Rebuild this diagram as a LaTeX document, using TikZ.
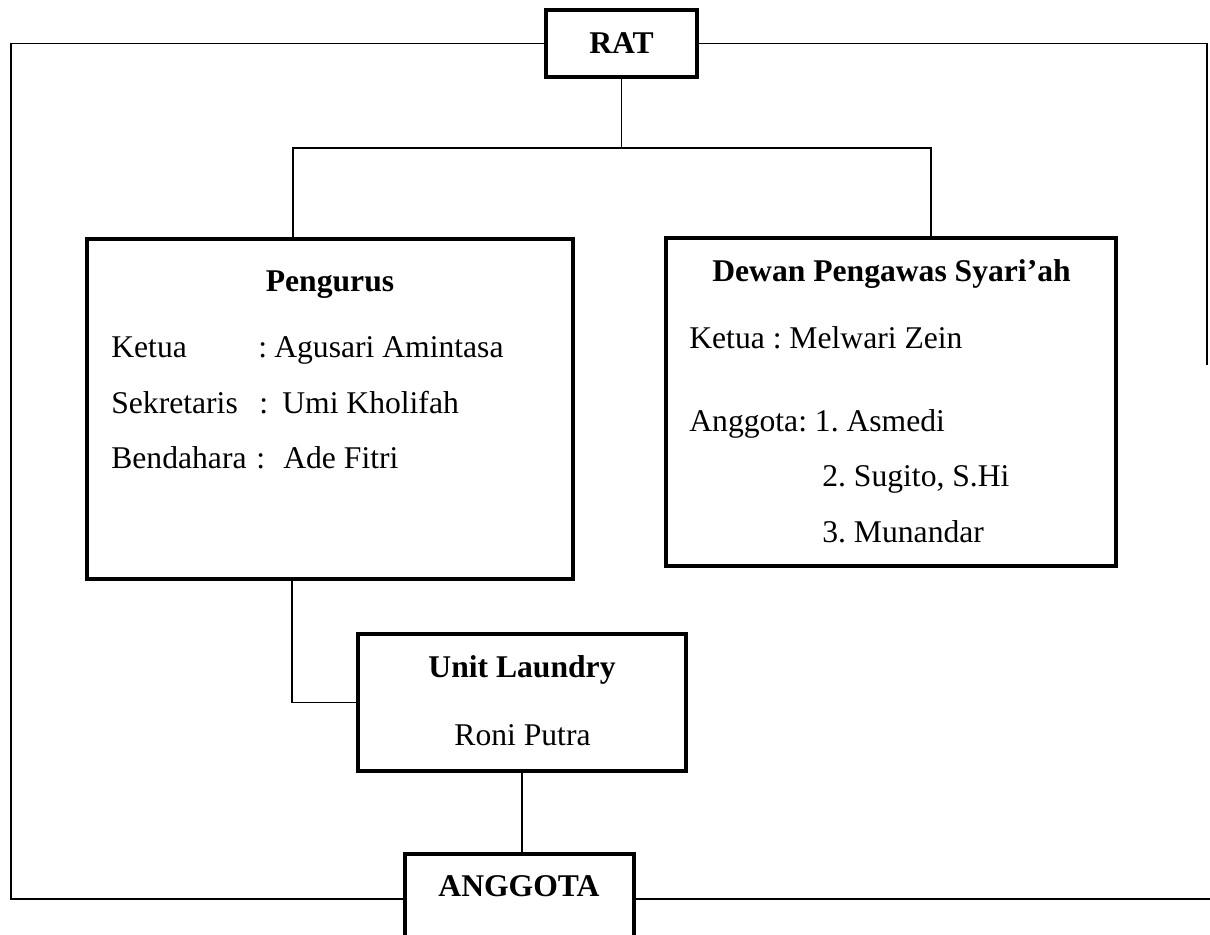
\documentclass[tikz,border=0pt]{standalone}
\usepackage{fontspec}
\setmainfont{Liberation Serif}
\usetikzlibrary{positioning}
\frenchspacing

\newcommand{\orgrow}[4]{\makebox[#1][l]{#2}\makebox[#3][l]{:}#4}

\begin{document}
\begin{tikzpicture}[
    x=0.02cm, y=-0.02cm,
    every node/.style={font=\fontsize{18}{22}\selectfont, inner sep=0pt},
    orgbox/.style={draw, line width=2.3pt, fill=white},
    title/.style={anchor=base, font=\fontsize{18}{22}\selectfont\bfseries},
    entry/.style={anchor=base west},
    link/.style={line width=0.85pt},
    frame/.style={line width=1.1pt}
]
    \useasboundingbox (0,0) rectangle (1210,935);

    % Boxes
    \node[orgbox, minimum width=3.02cm, minimum height=1.34cm, font=\fontsize{18}{22}\selectfont\bfseries] (rat) at (621.5,43.5) {RAT};
    \node[orgbox, minimum width=9.72cm, minimum height=6.8cm] (pengurus) at (330,409) {};
    \node[orgbox, minimum width=9cm, minimum height=6.56cm] (dps) at (891,402) {};
    \node[orgbox, minimum width=6.56cm, minimum height=2.74cm] (unit) at (522,702.5) {};
    \node[orgbox, minimum width=4.58cm, minimum height=4cm, anchor=north] (anggota) at (519.5,852) {};

    % Texts of Pengurus
    \node[title] (pengurustitle) at (330,292) {Pengurus};
    \node[entry] (ketua) at (111,358) {\orgrow{2.94cm}{Ketua}{0.32cm}{Agusari Amintasa}};
    \node[entry] (sekretaris) at (111,414) {\orgrow{2.96cm}{Sekretaris}{0.46cm}{Umi Kholifah}};
    \node[entry] (bendahara) at (111,469) {\orgrow{2.9cm}{Bendahara}{0.54cm}{Ade Fitri}};

    % Texts of Dewan Pengawas
    \node[title] (dpstitle) at (891.5,282) {Dewan Pengawas Syari’ah};
    \node[entry] (dpsketua) at (689,349) {Ketua : Melwari Zein};
    \node[entry] (dpsanggota) at (689,432) {Anggota: 1. Asmedi};
    \node[entry] (dpsdua) at (822,487) {2. Sugito, S.Hi};
    \node[entry] (dpstiga) at (822,542) {3. Munandar};

    % Texts of Unit Laundry and Anggota
    \node[title] (unittitle) at (522,677) {Unit Laundry};
    \node[anchor=base] (unitname) at (522.5,745) {Roni Putra};
    \node[title] (anggotatext) at (519,896) {ANGGOTA};

    % Outer frame
    \coordinate (ftl) at (11,43.5);
    \coordinate (fbl) at (11,899);
    \coordinate (ftr) at (1207,43.5);
    \coordinate (ftrb) at (1207,365);
    \coordinate (fbr) at (1212,899);
    \draw[frame] (rat.west) -- (ftl) -- (fbl) -- (anggota.west |- fbl);
    \draw[frame] (rat.east) -- (ftr) -- (ftrb);
    \draw[frame] (anggota.east |- fbr) -- (fbr);

    % Connectors
    \coordinate (busl) at (293,148);
    \coordinate (busr) at (931,148);
    \coordinate (pux) at (292,0);
    \draw[link] (rat.south) -- (rat.south |- busl);
    \draw[link] (busl |- pengurus.north) -- (busl) -- (busr) -- (busr |- dps.north);
    \draw[link] (pux |- pengurus.south) -- (pux |- unit.west) -- (unit.west);
    \draw[link] (unit.south) -- (unit.south |- anggota.north);
\end{tikzpicture}
\end{document}
